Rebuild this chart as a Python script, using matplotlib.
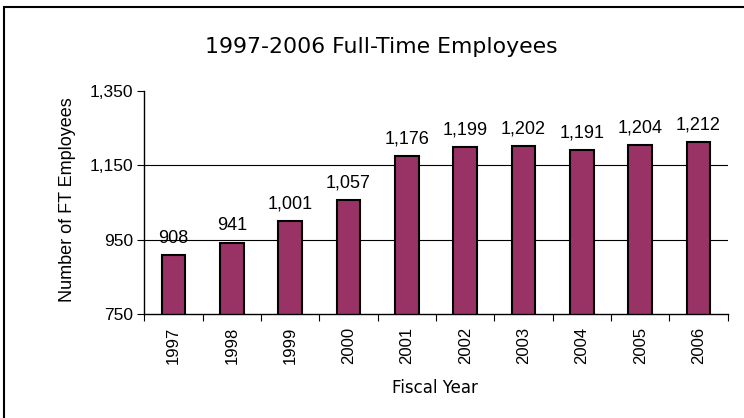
import matplotlib.pyplot as plt
from matplotlib.patches import Rectangle
from matplotlib.ticker import FixedLocator

years = ["1997", "1998", "1999", "2000", "2001", "2002", "2003", "2004", "2005", "2006"]
employees = [908, 941, 1001, 1057, 1176, 1199, 1202, 1191, 1204, 1212]
y_ticks = [750, 950, 1150, 1350]
grid_levels = [950, 1150]

fig = plt.figure(figsize=(7.44, 4.18), dpi=100)
ax = fig.add_axes([0.194, 0.249, 0.784, 0.533])

# frame around the chart (only top/left edges are visible in the picture)
fig.patches.append(Rectangle((0.005, -0.1), 1.2, 1.083, transform=fig.transFigure,
                             fill=False, edgecolor="black", linewidth=1.5))

for level in grid_levels:
    ax.axhline(level, color="black", linewidth=0.8, zorder=1)

x = range(len(years))
ax.bar(x, employees, width=0.41, color="#993366", edgecolor="black",
       linewidth=1.5, zorder=2)

for xi, val in zip(x, employees):
    ax.annotate(f"{val:,}", (xi, val), xytext=(0, 9), textcoords="offset points",
                ha="center", va="baseline", fontsize=13, family="Liberation Sans")

ax.set_xlim(-0.5, len(years) - 0.5)
ax.set_ylim(750, 1350)
ax.set_yticks(y_ticks)
ax.set_yticklabels([f"{t:,}" for t in y_ticks], family="Liberation Sans", fontsize=12.5)
ax.set_xticks(list(x))
ax.set_xticklabels(years, rotation=90, family="Liberation Sans", fontsize=12)
ax.xaxis.set_minor_locator(FixedLocator([i - 0.5 for i in range(len(years) + 1)]))
ax.tick_params(axis="x", which="major", length=0, pad=9)
ax.tick_params(axis="x", which="minor", length=5, width=0.8)
ax.tick_params(axis="y", length=5, width=0.8, pad=3)

for side in ["top", "right"]:
    ax.spines[side].set_visible(False)
for side in ["left", "bottom"]:
    ax.spines[side].set_linewidth(1.0)

fig.text(435 / 744, 1 - 393 / 418, "Fiscal Year", ha="center", va="baseline",
         family="DejaVu Sans", fontsize=12)
fig.text(68 / 744, 1 - 200 / 418, "Number of FT Employees", rotation=90,
         ha="center", va="center", family="Liberation Sans", fontsize=13)
fig.text(381 / 744, 1 - 53 / 418, "1997-2006 Full-Time Employees", ha="center",
         va="baseline", family="DejaVu Sans", fontsize=15.8)

fig.savefig("out.png", dpi=100)
